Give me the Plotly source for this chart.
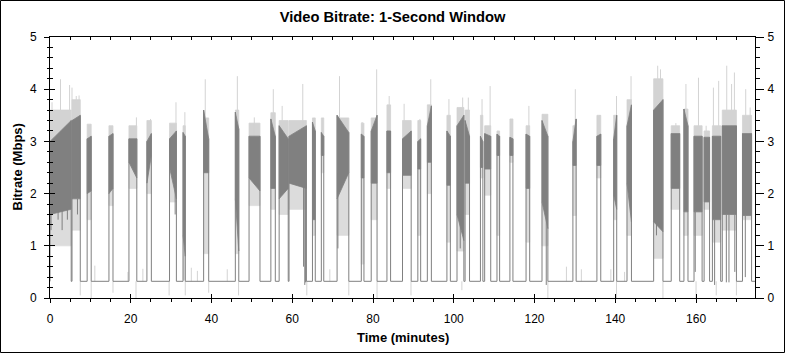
import plotly.graph_objects as go

# ---------------- data ----------------
BASE_MBPS = 0.32          # idle level between the active parts
X_MAX = 174.6             # end of the time axis (minutes)

SEG_START = [0.0, 5.45, 9.2, 14.6, 19.55, 24.0, 29.6, 32.95, 38.05, 45.9, 49.3, 54.7,
             56.75, 59.2, 65.0, 67.2, 71.1, 77.1, 79.55, 83.45, 87.3, 91.1, 93.45, 98.3,
             100.8, 102.8, 106.6, 107.65, 110.7, 113.9, 117.9, 121.85, 129.5, 135.45,
             139.6, 142.9, 149.5, 153.85, 157.0, 159.5, 162.0, 164.05, 166.5, 171.5]
SEG_END = [5.25, 7.5, 10.2, 15.6, 21.5, 25.1, 31.3, 33.5, 39.3, 46.75, 52.0, 55.8,
           59.0, 63.5, 65.7, 67.8, 74.0, 77.75, 81.0, 84.35, 89.45, 91.8, 94.45, 99.15,
           102.5, 103.9, 107.2, 109.15, 111.35, 114.65, 118.8, 123.3, 130.3, 136.4,
           140.35, 144.0, 151.8, 155.95, 158.0, 161.5, 163.35, 166.1, 170.0, 173.75]
# dark (typical) band: top / bottom at segment start and end
DARK_TOP_A = [3.0, 3.4, 3.05, 3.1, 3.05, 3.0, 3.05, 3.17, 3.6, 3.56, 3.1, 3.43,
              3.3, 3.1, 3.37, 3.17, 3.5, 3.14, 3.2, 3.2, 3.05, 3.0, 3.3, 3.2,
              3.3, 3.4, 3.1, 3.15, 3.14, 3.08, 3.14, 3.4, 3.0, 3.1,
              3.05, 3.3, 3.6, 3.15, 3.62, 3.1, 3.08, 3.1, 3.3, 3.15]
DARK_TOP_B = [3.4, 3.5, 3.1, 3.15, 3.05, 3.15, 3.2, 3.1, 3.05, 3.24, 3.1, 3.1,
              3.05, 3.3, 3.2, 3.1, 3.17, 3.1, 3.5, 3.2, 3.2, 3.05, 3.68, 3.1,
              3.5, 3.1, 3.0, 3.1, 3.1, 3.05, 3.1, 3.1, 3.43, 3.14,
              3.5, 3.7, 3.8, 3.15, 3.3, 3.1, 3.08, 3.1, 3.3, 3.15]
DARK_BOT_A = [1.6, 1.9, 2.0, 2.0, 2.6, 2.2, 2.5, 1.2, 2.4, 1.9, 2.3, 2.1,
              1.9, 2.2, 1.5, 2.73, 1.9, 2.3, 2.2, 2.4, 2.35, 2.47, 2.6, 2.16,
              1.6, 2.2, 2.5, 2.47, 2.73, 2.73, 2.1, 1.84, 2.54, 2.54,
              1.97, 2.2, 1.46, 2.1, 1.65, 1.65, 1.84, 1.5, 1.6, 1.58]
DARK_BOT_B = [1.7, 1.9, 2.05, 2.1, 2.3, 2.73, 1.9, 0.8, 2.4, 0.9, 2.05, 2.1,
              2.1, 2.1, 1.5, 2.73, 2.4, 2.3, 2.2, 2.4, 2.35, 2.47, 2.6, 2.16,
              1.1, 2.2, 2.5, 2.47, 2.73, 2.73, 2.1, 1.33, 2.54, 2.54,
              1.7, 1.46, 1.27, 2.1, 1.65, 1.65, 1.84, 1.5, 1.6, 1.58]
# light (extreme) band
LIGHT_TOP = [3.6, 3.8, 3.33, 3.3, 3.3, 3.4, 3.35, 3.3, 3.45, 3.6, 3.35, 3.55,
             3.4, 3.4, 3.45, 3.45, 3.45, 3.35, 3.45, 3.7, 3.4, 3.4, 3.7, 3.5,
             3.65, 3.6, 3.5, 3.3, 3.2, 3.43, 3.3, 3.52, 3.3, 3.5,
             3.5, 3.8, 4.2, 3.3, 3.62, 3.3, 3.2, 3.3, 3.6, 3.5]
LIGHT_BOT = [1.0, 1.3, 1.5, 1.77, 2.1, 2.0, 1.84, 0.35, 0.85, 0.85, 1.77, 1.7,
             1.6, 1.7, 1.2, 2.4, 1.2, 0.65, 1.5, 2.1, 2.1, 1.2, 2.0, 1.07,
             0.9, 1.6, 2.3, 1.97, 1.2, 2.6, 1.07, 1.0, 1.58, 2.3,
             1.5, 1.2, 0.76, 1.7, 1.2, 1.2, 1.7, 1.07, 1.3, 1.5]

# tallest light spikes
PEAK_T = [0.5, 2.6, 4.85, 5.45, 6.5, 7.2, 21.4, 24.9, 31.2, 33.4, 38.45, 46.4, 50.6,
          55.3, 57.5, 62.6, 71.7, 77.3, 80.9, 84.0, 87.7, 91.6, 94.3, 98.8, 101.7,
          102.2, 103.6, 107.0, 109.0, 114.5, 118.6, 122.1, 130.1, 136.1, 140.3, 143.9,
          150.5, 151.2, 155.0, 157.5, 160.6, 162.5, 164.3, 165.6, 167.6, 168.8, 169.5,
          172.3, 173.4]
PEAK_V = [3.75, 4.19, 4.08, 4.03, 3.87, 3.88, 3.46, 3.43, 3.75, 3.56, 4.19, 4.25, 3.46,
          4.0, 3.68, 4.1, 4.25, 3.37, 4.38, 3.87, 3.72, 3.43, 4.19, 3.81, 3.65,
          3.84, 3.84, 3.81, 4.06, 3.43, 3.68, 3.52, 4.0, 3.5, 3.87, 4.25,
          4.45, 4.38, 3.35, 4.1, 4.22, 3.3, 4.03, 4.16, 4.45, 4.1, 4.32,
          4.0, 3.65]
# deep dark drops inside active parts
DIP_T = [0.25, 2.0, 3.0, 4.3, 6.8, 31.0, 62.8, 63.1, 63.3, 71.3, 101.6, 122.9, 150.2,
         159.8, 164.6, 167.5, 168.15, 169.6, 172.2]
DIP_V = [1.3, 1.5, 1.3, 1.5, 1.6, 1.6, 0.6, 0.25, 0.3, 0.95, 0.95, 0.25, 1.2,
         0.5, 0.25, 0.3, 0.3, 0.5, 0.4]
# small light bumps above the idle level
BUMP_T = [11.1, 19.3, 23.0, 35.0, 36.5, 43.9, 69.3, 127.9, 131.6, 138.9, 142.3]
BUMP_V = [0.62, 0.5, 0.56, 0.58, 0.52, 0.55, 0.55, 0.6, 0.55, 0.55, 0.5]
# light drops below the idle level
LOW_T = [7.5, 10.2, 15.6, 21.3, 29.5, 33.5, 39.3, 46.7, 63.6, 74.0, 81.0, 89.4,
         102.0, 123.3, 140.3, 151.8, 160.0, 165.0, 170.0]
LOW_V = [0.05, 0.0, 0.1, 0.0, 0.05, 0.05, 0.1, 0.05, 0.05, 0.05, 0.0, 0.05,
         0.15, 0.0, 0.0, 0.0, 0.0, 0.05, 0.05]

X_TICKS = [0, 20, 40, 60, 80, 100, 120, 140, 160]
Y_TICKS = [0, 1, 2, 3, 4, 5]

TITLE = "Video Bitrate: 1-Second Window"
X_TITLE = "Time (minutes)"
Y_TITLE = "Bitrate (Mbps)"

# ---------------- styling ----------------
W, H = 785, 353
ML, MR, MT, MB = 50, 30, 37, 55
PW, PH = W - ML - MR, H - MT - MB
DARK = "#808080"
LIGHT = "#d3d3d3"
LIGHT_SPARSE = "#dcdcdc"
FONT = "Liberation Sans, Arial, sans-serif"


def seg_of(t):
    for i, (s, e) in enumerate(zip(SEG_START, SEG_END)):
        if s - 0.05 <= t <= e + 0.05:
            return i
    return None


def poly(x, y, color):
    return go.Scatter(x=x, y=y, mode="lines", fill="toself", fillcolor=color,
                      line=dict(color=color, width=0.8), hoverinfo="skip",
                      showlegend=False)


n = len(SEG_START)
fig = go.Figure()

# light band: sparser lower fringe, denser upper fringe
for i in range(n):
    s, e = SEG_START[i], SEG_END[i]
    fig.add_trace(poly([s, e, e, s, s],
                       [DARK_BOT_A[i], DARK_BOT_B[i], LIGHT_BOT[i], LIGHT_BOT[i], DARK_BOT_A[i]],
                       LIGHT_SPARSE))
    fig.add_trace(poly([s, e, e, s, s],
                       [LIGHT_TOP[i], LIGHT_TOP[i], DARK_TOP_B[i], DARK_TOP_A[i], LIGHT_TOP[i]],
                       LIGHT))

# light spikes
px, py = [], []
for t, v in zip(PEAK_T, PEAK_V):
    i = seg_of(t)
    lo = min(DARK_TOP_A[i], DARK_TOP_B[i]) if i is not None else BASE_MBPS
    px += [t, t, None]
    py += [lo, v, None]
for t, v in zip(BUMP_T, BUMP_V):
    px += [t, t, None]
    py += [BASE_MBPS, v, None]
for t, v in zip(LOW_T, LOW_V):
    px += [t, t, None]
    py += [BASE_MBPS, v, None]
fig.add_trace(go.Scatter(x=px, y=py, mode="lines", line=dict(color=LIGHT, width=1),
                         hoverinfo="skip", showlegend=False))

# dark band
for i in range(n):
    s, e = SEG_START[i], SEG_END[i]
    fig.add_trace(poly([s, e, e, s, s],
                       [DARK_TOP_A[i], DARK_TOP_B[i], DARK_BOT_B[i], DARK_BOT_A[i], DARK_TOP_A[i]],
                       DARK))

# idle line with the vertical edges of each active part
bx, by = [0], [BASE_MBPS]
for i in range(n):
    s, e = SEG_START[i], SEG_END[i]
    bx += [s, s, None, e, e]
    by += [BASE_MBPS, DARK_TOP_A[i], None, DARK_TOP_B[i], BASE_MBPS]
bx.append(X_MAX)
by.append(BASE_MBPS)
fig.add_trace(go.Scatter(x=bx, y=by, mode="lines", line=dict(color=DARK, width=1),
                         hoverinfo="skip", showlegend=False))

# dark deep drops
qx, qy = [], []
for t, v in zip(DIP_T, DIP_V):
    i = seg_of(t)
    hi = max(DARK_BOT_A[i], DARK_BOT_B[i]) if i is not None else BASE_MBPS
    qx += [t, t, None]
    qy += [hi, v, None]
fig.add_trace(go.Scatter(x=qx, y=qy, mode="lines", line=dict(color=DARK, width=1),
                         hoverinfo="skip", showlegend=False))

# placeholders so the extra tick axes are drawn
for xa, ya in [("x2", "y"), ("x3", "y"), ("x", "y2"), ("x", "y3")]:
    fig.add_trace(go.Scatter(x=[None], y=[None], xaxis=xa, yaxis=ya, showlegend=False,
                             hoverinfo="skip"))

tickfont = dict(family=FONT, size=12, color="black")
common_x = dict(range=[0, X_MAX], showgrid=False, zeroline=False, tickvals=X_TICKS,
                tickcolor="black", tickwidth=1, fixedrange=True)
common_y = dict(range=[0, 5], showgrid=False, zeroline=False, tickvals=Y_TICKS,
                tickcolor="black", tickwidth=1, fixedrange=True)

fig.update_layout(
    width=W, height=H,
    margin=dict(l=ML, r=MR, t=MT, b=MB, pad=0),
    paper_bgcolor="white", plot_bgcolor="white",
    font=dict(family=FONT, color="black"),
    title=dict(text=TITLE, x=0.5, xref="container", xanchor="center",
               y=1 - 17 / H, yref="container", yanchor="middle",
               font=dict(family=FONT, size=14.7, color="black", weight="bold")),
    xaxis=dict(**common_x, side="bottom", anchor="y", showline=True, linecolor="black",
               linewidth=1, ticks="outside", ticklen=4, tickfont=tickfont,
               ticklabelstandoff=6,
               minor=dict(dtick=5, tick0=0, ticks="outside", ticklen=3, tickcolor="black")),
    xaxis3=dict(**common_x, side="bottom", anchor="y", overlaying="x", showline=False,
                ticks="inside", ticklen=4, showticklabels=False),
    xaxis2=dict(**common_x, side="top", anchor="y", overlaying="x", showline=True,
                linecolor="black", linewidth=1, ticks="inside", ticklen=3,
                showticklabels=False,
                minor=dict(dtick=5, tick0=0, ticks="inside", ticklen=3, tickcolor="black")),
    yaxis=dict(**common_y, side="left", anchor="x", showline=True, linecolor="black",
               linewidth=1, ticks="outside", ticklen=5, tickfont=tickfont,
               ticklabelstandoff=5,
               minor=dict(dtick=0.2, tick0=0, ticks="outside", ticklen=2.5, tickcolor="black")),
    yaxis3=dict(**common_y, side="left", anchor="x", overlaying="y", showline=False,
                ticks="inside", ticklen=5, showticklabels=False,
                minor=dict(dtick=0.2, tick0=0, ticks="inside", ticklen=2.5, tickcolor="black")),
    yaxis2=dict(**common_y, side="right", anchor="x", overlaying="y", showline=True,
                linecolor="black", linewidth=1, ticks="outside", ticklen=8,
                tickfont=tickfont, ticklabelstandoff=1,
                minor=dict(dtick=0.2, tick0=0, ticks="outside", ticklen=3.5, tickcolor="black")),
    shapes=[dict(type="rect", xref="paper", yref="paper",
                 x0=(-ML + 0.5) / PW, x1=1 + (MR - 0.5) / PW,
                 y0=(-MB + 0.5) / PH, y1=1 + (MT - 0.5) / PH,
                 line=dict(color="black", width=1), layer="above")],
    annotations=[
        dict(text=X_TITLE, xref="paper", yref="paper", x=0.5, y=-(337 - (H - MB)) / PH,
             xanchor="center", yanchor="middle", showarrow=False,
             font=dict(family=FONT, size=13, color="black", weight="bold")),
        dict(text=Y_TITLE, xref="paper", yref="paper", x=-(ML - 17) / PW, y=0.5,
             xanchor="center", yanchor="middle", showarrow=False, textangle=-90,
             font=dict(family=FONT, size=13, color="black", weight="bold")),
    ],
)

fig.write_html("out.html", config={"displayModeBar": False})
